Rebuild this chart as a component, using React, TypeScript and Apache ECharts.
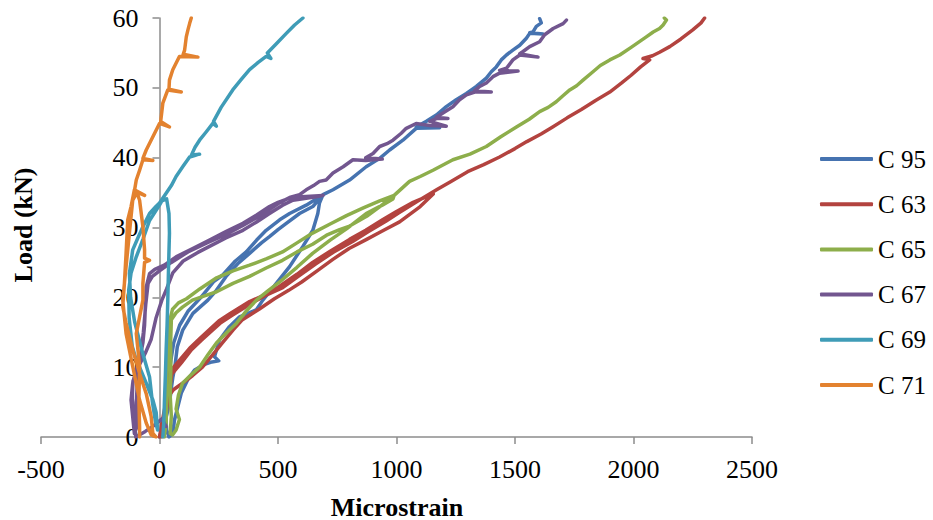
import React, { useEffect, useRef } from "react";
import * as echarts from "echarts";

// [microstrain, load kN]
const seriesNames = ["C 95", "C 63", "C 65", "C 67", "C 69", "C 71"];
const seriesColors = ["#4673B0", "#B3433F", "#8DAE4B", "#72568F", "#3F9CB7", "#E3822F"];

const c95 = [
  [0, 0], [14, 1.5], [28, 2.8], [42, 4.8], [50, 7], [56, 8.5], [65, 10.1], [75, 12.9], [98, 15.3], [141, 17.7], [204, 19.6], [240, 21], [281, 23], [330, 24.8], [380, 26.3], [430, 27.8], [464, 28.7], [500, 29.7], [535, 30.6], [591, 32], [647, 33], [690, 34.7],
  [675, 33.5], [668, 32], [647, 29.6], [605, 27.3], [549, 24.4], [493, 22], [436, 19.6], [408, 18.2], [338, 17.2], [295, 15.8], [253, 13.9], [232, 11.5], [250, 10.9], [215, 10.7], [190, 10.4], [148, 9.6], [119, 8.2], [92, 6.3], [77, 4.3], [63, 2.4], [56, 0.5], [40, 0],
  [30, 1], [25, 4], [35, 8], [48, 11], [60, 13.5], [85, 16], [120, 18], [175, 20], [230, 22.3], [267, 23.2], [320, 25.2], [366, 26.5], [410, 28.2], [450, 29.6], [507, 31.1], [549, 32], [619, 33.2], [690, 34.7],
  [732, 35.4], [802, 36.8], [872, 38.7], [929, 39.9], [971, 41.1], [1027, 42.5], [1083, 44.2], [1182, 44.3], [1083, 44.4], [1126, 45.2], [1168, 46.1], [1210, 47.3], [1252, 48.3], [1295, 49.2], [1337, 50.2], [1379, 51.4], [1400, 52.3], [1421, 53], [1442, 54], [1464, 54.7], [1491, 55.4], [1520, 56.1], [1548, 57.1], [1562, 57.8], [1618, 57.7], [1562, 57.9], [1576, 58], [1590, 58.8], [1611, 59.3], [1604, 59.9],
];

const c63 = [
  [0, 0], [10, 2], [30, 5.5], [60, 6.8], [97, 7.7], [140, 8.8], [181, 10], [225, 11.8], [266, 13.5], [310, 15.3], [350, 16.8], [420, 18.3], [485, 19.8], [545, 21], [600, 22.2], [665, 23.8], [730, 25.4], [800, 27], [874, 28.3], [940, 29.5], [1013, 30.8], [1060, 32], [1100, 33], [1155, 34.8],
  [1120, 34.3], [1070, 33.6], [1000, 32.3], [941, 31.1], [870, 29.6], [802, 28.3], [720, 26.6], [646, 25], [580, 23.3], [507, 21.6], [440, 20.3], [380, 19.4], [295, 17.6], [250, 16.6], [211, 15.4], [170, 14.1], [127, 12.7], [85, 11], [45, 9.4], [30, 7], [25, 5], [15, 1.5], [8, 0],
  [20, 1.5], [35, 5.2], [52, 9], [92, 10.6], [135, 12.5], [178, 13.9], [220, 15.2], [260, 16.4], [305, 17.4], [390, 19.2], [450, 20.3], [520, 21.4], [590, 23.1], [660, 24.8], [735, 26.5], [815, 28], [880, 29.4], [955, 30.9], [1010, 32.1], [1085, 33.7], [1169, 35.4],
  [1230, 36.6], [1300, 38], [1368, 39], [1435, 40.1], [1500, 41.3], [1550, 42.3], [1610, 43.4], [1659, 44.4], [1720, 45.7], [1780, 46.9], [1840, 48.2], [1900, 49.4], [1950, 50.7], [1990, 51.8], [2030, 53], [2068, 54], [2040, 54.2], [2080, 54.6], [2110, 55.1], [2153, 55.9], [2200, 57], [2250, 58.3], [2285, 59.3], [2300, 60],
];

const c65 = [
  [20, 0], [28, 2], [30, 5], [32, 9], [38, 13], [42, 16.5], [55, 18.3], [80, 19.2], [114, 19.8], [170, 21.2], [241, 22.8], [310, 23.8], [380, 24.6], [450, 25.5], [519, 26.5], [580, 27.8], [646, 29.2], [720, 30.5], [789, 31.7], [860, 32.8], [929, 33.8], [990, 34.6],
  [985, 34.1], [940, 33.2], [872, 32], [789, 29.8], [720, 28.2], [646, 26.3], [580, 24.3], [507, 22.2], [460, 21], [409, 19.6], [365, 18], [325, 16.3], [285, 15], [241, 13.5], [205, 11.8], [169, 10], [130, 8.8], [97, 7.7], [80, 6], [70, 4], [84, 2.5], [70, 1], [55, 0.3],
  [45, 0.5], [50, 3], [45, 6], [48, 10], [47, 13.5], [50, 16.8], [70, 17.8], [97, 18.6], [139, 19.6], [190, 20.2], [241, 20.8], [310, 22], [380, 23], [450, 24.2], [519, 25.3], [580, 26.5], [646, 27.6], [705, 28.9], [760, 29.7], [802, 30.2], [874, 31.6], [930, 33], [990, 34.6],
  [1055, 36.6], [1100, 37.3], [1154, 38.2], [1238, 39.7], [1310, 40.5], [1379, 41.6], [1440, 43], [1506, 44.4], [1560, 45.5], [1604, 46.6], [1640, 47.2], [1674, 48], [1700, 48.8], [1731, 49.7], [1760, 50.3], [1787, 51.1], [1829, 52.3], [1860, 53.2], [1900, 54], [1942, 54.7], [1990, 55.8], [2054, 57.3], [2083, 58], [2110, 58.5], [2125, 59], [2139, 59.7], [2130, 60],
];

const c67 = [
  [28, 1.5], [10, 2.6], [-25, 1.6], [-60, 0.8],
  [-100, 0], [-108, 3], [-115, 5.5], [-112, 8], [-90, 10], [-60, 12], [-35, 14], [-15, 17], [10, 19.6], [30, 21.2], [56, 23.5], [100, 25.2], [160, 26.4], [211, 27.3], [280, 28.5], [352, 29.6], [410, 30.8], [464, 32], [520, 33.2], [563, 33.9], [661, 34.4], [690, 34.6],
  [600, 34.4], [549, 34.2], [500, 33.6], [464, 33], [410, 31.8], [352, 30.6], [280, 29.4], [211, 28.2], [140, 27], [70, 25.8], [20, 24.6], [-20, 24], [-42, 23.4], [-56, 21.5], [-60, 18.5], [-63, 16], [-70, 13.5], [-84, 11], [-100, 9.5], [-113, 7.7], [-120, 5.3], [-113, 2.9], [-106, 0.5],
  [-95, 1.5], [-98, 5], [-92, 8.5], [-80, 11.5], [-68, 15], [-58, 19], [-48, 22], [-30, 23], [0, 23.8], [50, 25], [120, 26.5], [200, 27.8], [280, 29], [352, 30.3], [410, 31.4], [464, 32.6], [510, 33.6], [549, 34.3], [591, 34.7],
  [619, 35.4], [650, 36], [675, 36.6], [703, 36.8], [732, 37.8], [775, 38.7], [816, 39.7], [870, 39.6], [940, 39.8], [870, 40], [901, 40.6], [929, 41.6], [960, 42], [985, 42.5], [1020, 43.5], [1041, 44.2], [1083, 44.9], [1140, 44.6], [1210, 44.5], [1140, 45.2], [1168, 45.6], [1217, 45.6], [1168, 45.8], [1196, 46.4], [1238, 47.3], [1266, 48.3], [1295, 49], [1330, 49.4], [1400, 49.4], [1330, 49.6], [1351, 50.2], [1379, 50.7], [1407, 51.6], [1435, 52.1], [1513, 52.4], [1435, 52.5], [1464, 52.8], [1491, 54], [1520, 54.7], [1597, 54.4], [1520, 54.9], [1534, 55.2], [1562, 55.9], [1604, 56.6], [1625, 57.6], [1661, 58.5], [1703, 59.2], [1717, 59.7],
];

const c69 = [
  [14, 0], [18, 2], [21, 5.3], [25, 9], [28, 12.5], [32, 16], [35, 19.6], [38, 24], [42, 29.2], [40, 32], [30, 34.1], [10, 33.8], [0, 33.2], [-42, 31], [-70, 28.3], [-98, 25.8], [-120, 23.5], [-130, 21], [-128, 17], [-115, 13], [-98, 11], [-84, 10], [-56, 7.7], [-28, 5.3], [-14, 3.5], [-8, 1],
  [-18, 2.4], [-30, 5], [-42, 8.6], [-75, 12.5], [-105, 16.5], [-122, 20], [-127, 23.4], [-113, 26.8], [-90, 28.6], [-70, 30.1], [-42, 32], [-15, 33], [0, 33.5], [28, 34.9], [50, 36], [70, 37.3], [100, 38.8], [127, 40.1], [169, 40.5], [135, 40.4], [150, 41.5], [169, 42.5], [195, 43.6], [225, 44.9], [240, 44.5], [228, 45.2], [260, 47.2], [309, 49.7], [345, 51.2], [380, 52.6], [415, 53.6], [450, 54.5], [470, 54.2], [455, 55], [490, 56.2], [535, 57.8], [570, 59], [605, 60],
];

const c71 = [
  [-84, 0], [-84, 1.5], [-87, 5.3], [-84, 10.1], [-91, 12.5], [-98, 14.8], [-84, 17.2], [-70, 19.6], [-70, 22], [-63, 25], [-42, 25.3], [-63, 25.6], [-63, 26.8], [-70, 30.1], [-84, 33.9], [-95, 35],
  [-113, 33.9], [-127, 29.2], [-141, 24.4], [-155, 19.6], [-141, 14.8], [-113, 10.1], [-84, 5.3], [-56, 2], [-35, 0.3], [-15, 0],
  [-28, 0.5], [-35, 2.9], [-56, 6.2], [-84, 9.1], [-113, 12.5], [-141, 16.3], [-155, 18.7], [-148, 22], [-141, 26.3], [-134, 31.1], [-120, 33], [-106, 35.4], [-63, 34.6], [-106, 35.2], [-98, 36.8], [-84, 38.2], [-70, 39.7], [-28, 39.6], [-70, 39.9], [-56, 41.1], [-28, 43], [0, 44.9], [42, 44.4], [5, 45.2], [14, 47.8], [35, 49.7], [92, 49.4], [40, 49.8], [42, 51.1], [56, 52.6], [84, 54.5], [162, 54.4], [100, 54.8], [106, 55.4], [113, 57.3], [120, 58.3], [127, 59.2], [134, 60],
];

const seriesData = [c95, c63, c65, c67, c69, c71];

const xTicks = { min: -500, max: 2500, interval: 500 };
const yTicks = { min: 0, max: 60, interval: 10 };

const FONT = '"Liberation Serif", "Times New Roman", serif';

const GRID_LEFT = 41;
const GRID_RIGHT = 181;
const PLOT_W = 933 - GRID_LEFT - GRID_RIGHT;
// y axis drawn at strain 0
const Y_AXIS_OFFSET = -((0 - xTicks.min) / (xTicks.max - xTicks.min)) * PLOT_W;

export default function App() {
  const ref = useRef<HTMLDivElement>(null);
  useEffect(() => {
    if (!ref.current) return;
    const chart = echarts.init(ref.current, null, { renderer: "svg" });
    chart.setOption({
      animation: false,
      backgroundColor: "#ffffff",
      grid: {
        left: GRID_LEFT,
        right: GRID_RIGHT,
        top: 18,
        bottom: 83,
        containLabel: false,
        outerBoundsMode: "none",
      },
      xAxis: {
        type: "value",
        min: xTicks.min,
        max: xTicks.max,
        interval: xTicks.interval,
        splitLine: { show: false },
        axisLine: { show: true, onZero: false, lineStyle: { color: "#8c8c8c", width: 1.5 } },
        axisTick: { show: true, length: 7, lineStyle: { color: "#8c8c8c", width: 1.5 } },
        axisLabel: {
          color: "#000",
          fontFamily: FONT,
          fontSize: 26,
          margin: 19,
          formatter: (v: number) => String(v),
        },
      },
      yAxis: {
        type: "value",
        min: yTicks.min,
        max: yTicks.max,
        interval: yTicks.interval,
        offset: Y_AXIS_OFFSET,
        splitLine: { show: false },
        axisLine: { show: true, onZero: false, lineStyle: { color: "#8c8c8c", width: 1.5 } },
        axisTick: { show: true, length: 7, lineStyle: { color: "#8c8c8c", width: 1.5 } },
        axisLabel: {
          color: "#000",
          fontFamily: FONT,
          fontSize: 26,
          margin: 21,
          formatter: (v: number) => String(v),
        },
      },
      legend: {
        orient: "vertical",
        left: 820,
        top: 146,
        padding: 0,
        itemWidth: 53,
        itemHeight: 4,
        itemGap: 19.2,
        selectedMode: false,
        icon: "roundRect",
        textStyle: { color: "#000", fontFamily: FONT, fontSize: 25, lineHeight: 26, padding: [0, 0, 0, 0] },
        data: seriesNames,
      },
      graphic: [
        {
          type: "text",
          x: 23,
          y: 225,
          rotation: Math.PI / 2,
          style: {
            text: "Load (kN)",
            fill: "#000",
            fontFamily: FONT,
            fontSize: 26,
            fontWeight: "bold",
            align: "center",
            verticalAlign: "middle",
            textAlign: "center",
            textVerticalAlign: "middle",
          },
        },
        {
          type: "text",
          x: 397,
          y: 507,
          style: {
            text: "Microstrain",
            fill: "#000",
            fontFamily: FONT,
            fontSize: 26,
            fontWeight: "bold",
            align: "center",
            verticalAlign: "middle",
            textAlign: "center",
            textVerticalAlign: "middle",
          },
        },
      ],
      series: seriesNames.map((name, i) => ({
        name,
        type: "line",
        data: seriesData[i],
        showSymbol: false,
        symbol: "none",
        smooth: false,
        color: seriesColors[i],
        lineStyle: { width: 3.5, color: seriesColors[i], cap: "round", join: "round" },
        emphasis: { disabled: true },
      })),
    });
    return () => chart.dispose();
  }, []);
  return (
    <div
      ref={ref}
      style={{ position: "absolute", left: 0, top: 0, width: 933, height: 520 }}
    />
  );
}
